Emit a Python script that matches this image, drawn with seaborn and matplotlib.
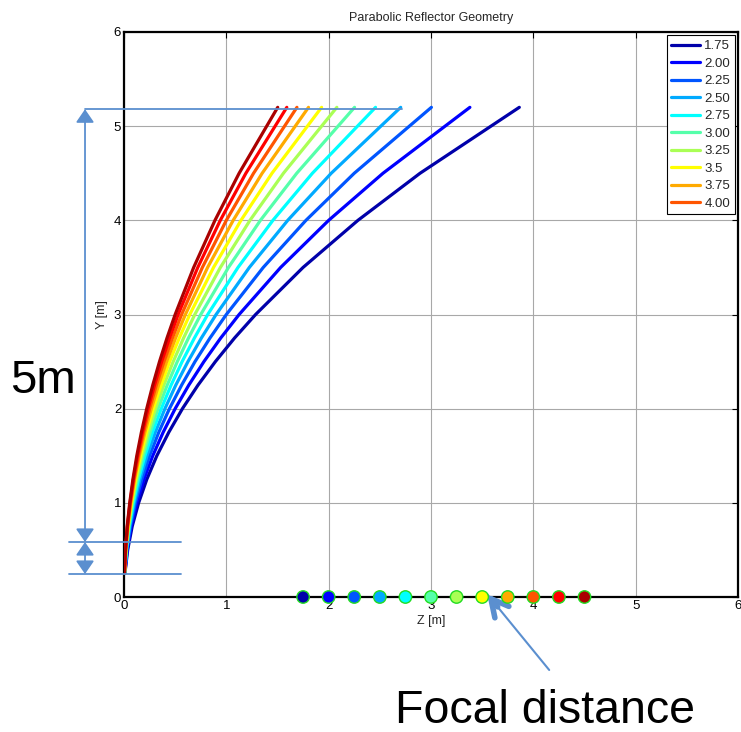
import numpy as np
import pandas as pd
import matplotlib
matplotlib.use("Agg")
import matplotlib.pyplot as plt
import seaborn as sns

# ---------------- data ----------------
focal = [1.75, 2.00, 2.25, 2.50, 2.75, 3.00, 3.25, 3.50, 3.75, 4.00, 4.25, 4.50]
legend_labels = ["1.75", "2.00", "2.25", "2.50", "2.75", "3.00", "3.25", "3.5", "3.75", "4.00"]

y_pts = [0.25, 0.5, 0.75, 1.0, 1.25, 1.5, 1.75, 2.0, 2.25, 2.5, 2.75, 3.0, 3.5, 4.0, 4.5, 5.2]

z_175 = [0.009, 0.036, 0.080, 0.143, 0.223, 0.321, 0.438, 0.571, 0.723, 0.893, 1.080, 1.286, 1.750, 2.286, 2.893, 3.863]
z_200 = [0.008, 0.031, 0.070, 0.125, 0.195, 0.281, 0.383, 0.500, 0.633, 0.781, 0.945, 1.125, 1.531, 2.000, 2.531, 3.380]
z_225 = [0.007, 0.028, 0.063, 0.111, 0.174, 0.250, 0.340, 0.444, 0.563, 0.694, 0.840, 1.000, 1.361, 1.778, 2.250, 3.004]
z_250 = [0.006, 0.025, 0.056, 0.100, 0.156, 0.225, 0.306, 0.400, 0.506, 0.625, 0.756, 0.900, 1.225, 1.600, 2.025, 2.704]
z_275 = [0.006, 0.023, 0.051, 0.091, 0.142, 0.205, 0.278, 0.364, 0.460, 0.568, 0.688, 0.818, 1.114, 1.455, 1.841, 2.458]
z_300 = [0.005, 0.021, 0.047, 0.083, 0.130, 0.188, 0.255, 0.333, 0.422, 0.521, 0.630, 0.750, 1.021, 1.333, 1.688, 2.253]
z_325 = [0.005, 0.019, 0.043, 0.077, 0.120, 0.173, 0.236, 0.308, 0.389, 0.481, 0.582, 0.692, 0.942, 1.231, 1.558, 2.080]
z_350 = [0.004, 0.018, 0.040, 0.071, 0.112, 0.161, 0.219, 0.286, 0.362, 0.446, 0.540, 0.643, 0.875, 1.143, 1.446, 1.931]
z_375 = [0.004, 0.017, 0.038, 0.067, 0.104, 0.150, 0.204, 0.267, 0.338, 0.417, 0.504, 0.600, 0.817, 1.067, 1.350, 1.803]
z_400 = [0.004, 0.016, 0.035, 0.063, 0.098, 0.141, 0.191, 0.250, 0.316, 0.391, 0.473, 0.563, 0.766, 1.000, 1.266, 1.690]
z_425 = [0.004, 0.015, 0.033, 0.059, 0.092, 0.132, 0.180, 0.235, 0.298, 0.368, 0.445, 0.529, 0.721, 0.941, 1.191, 1.591]
z_450 = [0.003, 0.014, 0.031, 0.056, 0.087, 0.125, 0.170, 0.222, 0.281, 0.347, 0.420, 0.500, 0.681, 0.889, 1.125, 1.502]
z_curves = [z_175, z_200, z_225, z_250, z_275, z_300, z_325, z_350, z_375, z_400, z_425, z_450]

# annotation geometry (data units)
dim_x = -0.381
dim_top = 5.18
dim_mid = 0.584
dim_bot = 0.244

# ---------------- styling ----------------
sns.set_theme(style="white")
plt.rcParams["font.family"] = ["Liberation Sans", "DejaVu Sans"]

jet12 = [(0, 0, 0.6667), (0, 0, 1.0), (0, 0.3333, 1.0), (0, 0.6667, 1.0),
         (0, 1.0, 1.0), (0.3333, 1.0, 0.6667), (0.6667, 1.0, 0.3333), (1.0, 1.0, 0),
         (1.0, 0.6667, 0), (1.0, 0.3333, 0), (1.0, 0, 0), (0.6667, 0, 0)]
anno_col = "#5b8fcf"

W, H = 741, 732
fig = plt.figure(figsize=(W / 100, H / 100), dpi=100)
ax = fig.add_axes([124 / W, 1 - 597 / H, 614 / W, 565 / H])

# curves
for i, (f, zc) in enumerate(zip(focal, z_curves)):
    df = pd.DataFrame({"z": zc, "y": y_pts})
    lab = legend_labels[i] if i < len(legend_labels) else "_nolegend_"
    sns.lineplot(data=df, x="z", y="y", ax=ax, color=jet12[i], lw=2.3,
                 sort=False, estimator=None, label=lab, zorder=3)

# focal points on the axis
pts = pd.DataFrame({"f": focal, "y0": [0.0] * len(focal), "k": [str(v) for v in focal]})
sns.scatterplot(data=pts, x="f", y="y0", hue="k", palette=jet12, ax=ax, s=80,
                edgecolor="#22dd22", linewidth=1.0, legend=False, zorder=6, clip_on=False)

ax.set_xlim(0, 6)
ax.set_ylim(0, 6)
ax.set_xticks(range(7))
ax.set_yticks(range(7))
ax.grid(True, color="#a8a8a8", lw=0.8, zorder=0)
ax.set_axisbelow(True)
for s in ax.spines.values():
    s.set_color("black")
    s.set_linewidth(1.6)
ax.tick_params(direction="in", top=True, right=True, length=4, width=0.8,
               labelsize=9.5, pad=2, colors="black")
ax.set_xlabel("Z [m]", fontsize=9, labelpad=2)
ax.set_ylabel("Y [m]", fontsize=9, labelpad=4)
ax.set_title("Parabolic Reflector Geometry", fontsize=9, pad=8)

leg = ax.legend(loc="upper right", bbox_to_anchor=(1.0, 1.0), borderaxespad=0.25,
                fontsize=9.5, frameon=True, fancybox=False, edgecolor="black",
                framealpha=1, handlelength=2.2, handletextpad=0.3, borderpad=0.35,
                labelspacing=0.4)
leg.get_frame().set_linewidth(0.8)
for h in leg.get_lines():
    h.set_linewidth(2.3)

# dimension lines
ax.plot([dim_x, 2.717], [dim_top, dim_top], color=anno_col, lw=1.3, clip_on=False, zorder=5)
ax.plot([-0.537, 0.557], [dim_mid, dim_mid], color=anno_col, lw=1.3, clip_on=False, zorder=5)
ax.plot([-0.537, 0.557], [dim_bot, dim_bot], color=anno_col, lw=1.3, clip_on=False, zorder=5)
astyle = "<|-|>,head_length=0.8,head_width=0.55"
ax.annotate("", xy=(dim_x, dim_top), xytext=(dim_x, dim_mid), annotation_clip=False,
            arrowprops=dict(arrowstyle=astyle, color=anno_col, lw=1.3,
                            shrinkA=0, shrinkB=0, mutation_scale=10))
ax.annotate("", xy=(dim_x, dim_mid), xytext=(dim_x, dim_bot), annotation_clip=False,
            arrowprops=dict(arrowstyle=astyle, color=anno_col, lw=1.3,
                            shrinkA=0, shrinkB=0, mutation_scale=10))

# focal distance arrow
tip = (3.548, 0.032)
tail = (4.155, -0.775)
ax.annotate("", xy=tip, xytext=tail, annotation_clip=False,
            arrowprops=dict(arrowstyle="-", color=anno_col, lw=1.5, shrinkA=0, shrinkB=0))
head_start = (tip[0] + (tail[0] - tip[0]) * 0.17, tip[1] + (tail[1] - tip[1]) * 0.17)
ax.annotate("", xy=tip, xytext=head_start, annotation_clip=False,
            arrowprops=dict(arrowstyle="->,head_length=1.25,head_width=0.65",
                            color=anno_col, lw=4, shrinkA=0, shrinkB=0,
                            mutation_scale=10))

fig.text(10 / W, 1 - 393 / H, "5m", fontsize=34, va="baseline", ha="left", color="black")
fig.text(395 / W, 1 - 723 / H, "Focal distance", fontsize=33.5, va="baseline", ha="left",
         color="black")

fig.savefig("out.png", dpi=100)
